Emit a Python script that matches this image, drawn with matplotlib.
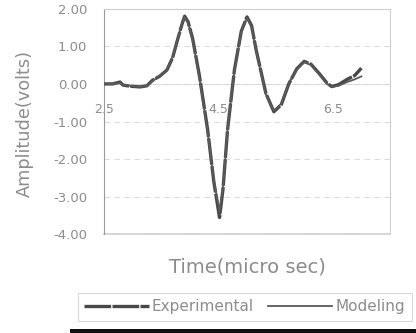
import numpy as np
import matplotlib
matplotlib.use('Agg')
import matplotlib.pyplot as plt
from matplotlib.patches import Rectangle

# waveform traces (time in micro sec, amplitude in volts)
t_exp = [2.5, 2.65, 2.78, 2.83, 2.95, 3.13, 3.25, 3.35, 3.47, 3.6, 3.7, 3.77, 3.86, 3.91,
         3.97, 4.05, 4.17, 4.31, 4.42, 4.52, 4.58, 4.66, 4.78, 4.9, 5.0, 5.08, 5.16, 5.33,
         5.47, 5.6, 5.73, 5.87, 6.0, 6.12, 6.26, 6.4, 6.48, 6.6, 6.75, 6.88, 7.0]
v_exp = [0.0, 0.0, 0.05, -0.03, -0.06, -0.08, -0.05, 0.1, 0.2, 0.37, 0.7, 1.09, 1.57, 1.8,
         1.65, 1.2, 0.2, -1.2, -2.6, -3.55, -2.8, -1.22, 0.37, 1.4, 1.78, 1.55, 0.9, -0.25,
         -0.74, -0.55, 0.0, 0.4, 0.6, 0.52, 0.28, 0.02, -0.07, -0.02, 0.12, 0.22, 0.42]

t_mod = [2.5, 2.65, 2.78, 2.83, 2.95, 3.13, 3.25, 3.35, 3.47, 3.6, 3.7, 3.77, 3.86, 3.91,
         3.97, 4.05, 4.17, 4.31, 4.42, 4.52, 4.58, 4.66, 4.78, 4.9, 5.0, 5.08, 5.16, 5.33,
         5.47, 5.6, 5.73, 5.87, 6.0, 6.12, 6.26, 6.4, 6.48, 6.6, 6.75, 6.88, 7.0]
v_mod = [0.0, 0.0, 0.02, -0.02, -0.05, -0.08, -0.05, 0.08, 0.2, 0.38, 0.72, 1.1, 1.58, 1.78,
         1.62, 1.15, 0.15, -1.25, -2.55, -3.4, -2.75, -1.2, 0.35, 1.38, 1.75, 1.52, 0.88, -0.28,
         -0.72, -0.52, 0.02, 0.38, 0.58, 0.5, 0.26, 0.0, -0.08, -0.05, 0.05, 0.12, 0.2]

xticks = [2.5, 4.5, 6.5]
yticks = [-4, -3, -2, -1, 0, 1, 2]

grey_txt = '#8c8c8c'

fig = plt.figure(figsize=(4.16, 3.33), dpi=100)
ax = fig.add_axes([0.25, 0.296, 0.6875, 0.678])

ax.plot(t_exp, v_exp, color='#484848', lw=2.4, ls=(0, (8, 0.4)), label='Experimental', zorder=3)
ax.plot(t_mod, v_mod, color='#5a5a5a', lw=1.3, label='Modeling', zorder=4)

ax.set_xlim(2.5, 7.5)
ax.set_ylim(-4, 2)
ax.set_xticks(xticks)
ax.set_xticklabels(['2.5', '4.5', '6.5'])
ax.set_yticks(yticks)
ax.set_yticklabels(['%.2f' % v for v in yticks])

# excel style: category axis crosses at zero
ax.spines['bottom'].set_position(('data', 0))
ax.spines['bottom'].set_color('#d8d8d8')
ax.spines['bottom'].set_linewidth(0.6)
ax.spines['left'].set_color('#9a9a9a')
ax.spines['top'].set_color('#cfcfcf')
ax.spines['right'].set_color('#cfcfcf')
ax.axhline(-4, color='#cfcfcf', lw=1.2, clip_on=False)

ax.yaxis.grid(True, color='#dcdcdc', ls=(0, (5, 4)), lw=0.8)
ax.set_axisbelow(True)
ax.tick_params(axis='x', length=0, pad=14, labelsize=9, labelcolor=grey_txt)
ax.tick_params(axis='y', length=0, pad=12, labelsize=9.5, labelcolor=grey_txt)

ax.set_xlabel('Time(micro sec)', fontsize=14, color=grey_txt)
ax.xaxis.set_label_coords(0.5, -0.1)
ax.set_ylabel('Amplitude(volts)', fontsize=12.8, color=grey_txt)
ax.yaxis.set_label_coords(-0.245, 0.49)

leg = fig.legend(loc='lower left', bbox_to_anchor=(0.168, 0.012, 0.84, 0.09), mode='expand',
                 ncol=2, fontsize=11, handlelength=4.2, handletextpad=0.2, columnspacing=0.5,
                 fancybox=False, borderpad=0.45, frameon=True)
leg.get_frame().set_edgecolor('#d0d0d0')
leg.get_frame().set_linewidth(0.8)
for txt in leg.get_texts():
    txt.set_color(grey_txt)

# dark band along the bottom of the legend box
fig.add_artist(Rectangle((0.168, 0.0), 0.832, 0.012, transform=fig.transFigure,
                         facecolor='#111111', edgecolor='none'))

plt.savefig('out.png', dpi=100)
